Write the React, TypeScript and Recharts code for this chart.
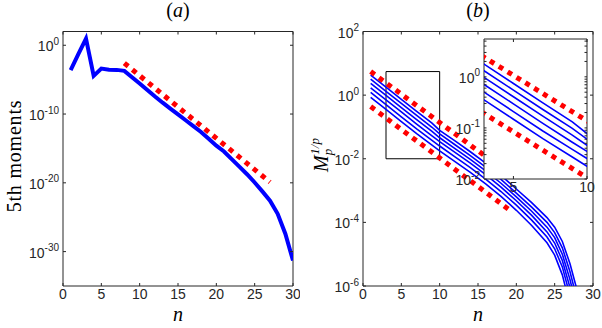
import { Line, LineChart, ReferenceArea, XAxis, YAxis } from "recharts";

const BLUE = "#0000ff";
const RED = "#ff0000";
const AXIS = "#262626";
const SANS = "'Liberation Sans', Arial, Helvetica, sans-serif";
const SERIF = "'Liberation Serif', 'Times New Roman', serif";

// panel (a): 5th moments, stored as log10 of the value
const nA = [1, 2, 3, 4, 5, 6, 7, 8, 9, 10, 11, 12, 13, 14, 15, 16, 17, 18, 19, 20, 21, 22, 23, 24, 25, 26, 27, 28, 29, 30];
const momentsExpA = [
  -3.62, -1.3, 0.97, -4.45, -3.38, -3.55, -3.58, -3.72, -4.65, -5.55, -6.5, -7.45, -8.35, -9.2, -10.05,
  -10.9, -11.75, -12.6, -13.6, -14.6, -15.45, -16.55, -17.65, -18.75, -19.95, -21.25, -22.6, -24.5, -27.4, -31.3,
];
const nFitA = [8, 27];
const fitExpA = [-2.6, -19.9];

// panel (b): M_p^{1/p}, one array per p (log10 values)
const nB = [1, 3, 5, 7, 9, 10, 12, 14, 16, 18, 20, 22, 24, 25, 26, 27, 28];
const mExpP1 = [0.63, 0.25, -0.13, -0.51, -0.88, -1.11, -1.44, -1.78, -2.14, -2.52, -2.95, -3.38, -3.85, -4.15, -4.6, -5.3, -6.2];
const mExpP2 = [0.5, 0.12, -0.26, -0.64, -1.01, -1.22, -1.56, -1.9, -2.26, -2.65, -3.08, -3.52, -4.0, -4.32, -4.8, -5.55, -6.5];
const mExpP3 = [0.37, -0.01, -0.39, -0.77, -1.14, -1.34, -1.68, -2.02, -2.38, -2.77, -3.2, -3.65, -4.15, -4.48, -5.0, -5.8, -6.8];
const mExpP4 = [0.23, -0.15, -0.53, -0.91, -1.28, -1.46, -1.8, -2.14, -2.5, -2.89, -3.32, -3.78, -4.3, -4.65, -5.2, -6.05, -7.1];
const mExpP5 = [0.09, -0.3, -0.68, -1.06, -1.42, -1.6, -1.94, -2.28, -2.64, -3.03, -3.46, -3.93, -4.46, -4.83, -5.4, -6.3, -7.4];
const mExpP6 = [-0.07, -0.45, -0.83, -1.21, -1.57, -1.75, -2.09, -2.43, -2.79, -3.18, -3.62, -4.1, -4.64, -5.03, -5.65, -6.6, -7.7];
const nBoundB = [1, 19.5];
const upperExpB = [0.74, -2.55];
const lowerExpB = [-0.36, -3.68];

const xTicks = [0, 5, 10, 15, 20, 25, 30];
const yTicksA = [1e-30, 1e-20, 1e-10, 1];
const yTicksB = [1e-6, 1e-4, 1e-2, 1, 100];
const insetXTicks = [5, 10];
const insetYTicks = [
  0.01, 0.02, 0.03, 0.04, 0.05, 0.06, 0.07, 0.08, 0.09, 0.1, 0.2, 0.3, 0.4, 0.5, 0.6, 0.7, 0.8, 0.9, 1, 2, 3, 4, 5,
];

const toPoints = (ns: number[], exps: number[]) => ns.map((n, i) => ({ n, v: Math.pow(10, exps[i]) }));

const seriesA = toPoints(nA, momentsExpA);
const fitA = toPoints(nFitA, fitExpA);
const seriesB = [mExpP1, mExpP2, mExpP3, mExpP4, mExpP5, mExpP6].map((e) => toPoints(nB, e));
const upperB = toPoints(nBoundB, upperExpB);
const lowerB = toPoints(nBoundB, lowerExpB);

const makeXTick = (plotH: number, len = 3) => (p: any) => {
  const { x, y, payload } = p;
  return (
    <g>
      <line x1={x} x2={x} y1={y} y2={y - len} stroke={AXIS} />
      <line x1={x} x2={x} y1={y - plotH} y2={y - plotH + len} stroke={AXIS} />
      <text x={x} y={y + 13} textAnchor="middle" fontFamily={SANS} fontSize={14} fill={AXIS}>
        {payload.value}
      </text>
    </g>
  );
};

const makeYTick = (plotW: number, len = 3) => (p: any) => {
  const { x, y, payload } = p;
  const lg = Math.log10(payload.value);
  const exp = Math.round(lg);
  const major = Math.abs(lg - exp) < 1e-6;
  return (
    <g>
      <line x1={x} x2={x + len} y1={y} y2={y} stroke={AXIS} />
      <line x1={x + plotW} x2={x + plotW - len} y1={y} y2={y} stroke={AXIS} />
      {major && (
        <text x={x - 4} y={y + 6} textAnchor="end" fontFamily={SANS} fontSize={14} fill={AXIS}>
          10
          <tspan dy={-6.5} fontSize={10}>
            {exp}
          </tspan>
        </text>
      )}
    </g>
  );
};

const frame = { fill: "none", stroke: AXIS, strokeWidth: 1 };

function PanelA() {
  return (
    <LineChart width={300} height={328} margin={{ top: 31.5, right: 7, bottom: 0, left: 0 }}>
      <XAxis
        dataKey="n"
        type="number"
        domain={[0, 30]}
        ticks={xTicks}
        interval={0}
        height={42}
        tickSize={0}
        tickMargin={0}
        axisLine={false}
        tickLine={false}
        tick={makeXTick(254.5)}
        allowDataOverflow
      />
      <YAxis
        type="number"
        scale="log"
        domain={[1e-35, 100]}
        ticks={yTicksA}
        interval={0}
        width={63}
        tickSize={0}
        tickMargin={0}
        axisLine={false}
        tickLine={false}
        tick={makeYTick(230)}
        allowDataOverflow
      />
      <Line data={seriesA} dataKey="v" type="linear" stroke={BLUE} strokeWidth={4} dot={false} isAnimationActive={false} />
      <Line
        data={fitA}
        dataKey="v"
        type="linear"
        stroke={RED}
        strokeWidth={5}
        strokeDasharray="5 5.4"
        dot={false}
        isAnimationActive={false}
      />
      <ReferenceArea x1={0} x2={30} y1={1e-35} y2={100} {...frame} />
    </LineChart>
  );
}

function PanelB() {
  return (
    <LineChart width={302} height={328} margin={{ top: 31.5, right: 9, bottom: 0, left: 0 }}>
      <XAxis
        dataKey="n"
        type="number"
        domain={[0, 30]}
        ticks={xTicks}
        interval={0}
        height={42}
        tickSize={0}
        tickMargin={0}
        axisLine={false}
        tickLine={false}
        tick={makeXTick(254.5)}
        allowDataOverflow
      />
      <YAxis
        type="number"
        scale="log"
        domain={[1e-6, 100]}
        ticks={yTicksB}
        interval={0}
        width={63}
        tickSize={0}
        tickMargin={0}
        axisLine={false}
        tickLine={false}
        tick={makeYTick(230)}
        allowDataOverflow
      />
      {seriesB.map((d, i) => (
        <Line key={i} data={d} dataKey="v" type="linear" stroke={BLUE} strokeWidth={1.6} dot={false} isAnimationActive={false} />
      ))}
      {[upperB, lowerB].map((d, i) => (
        <Line
          key={"r" + i}
          data={d}
          dataKey="v"
          type="linear"
          stroke={RED}
          strokeWidth={5}
          strokeDasharray="5 5.4"
          dot={false}
          isAnimationActive={false}
        />
      ))}
      <ReferenceArea x1={3} x2={10} y1={0.01} y2={5.5} fill="none" stroke="#000" strokeWidth={1} />
      <ReferenceArea x1={0} x2={30} y1={1e-6} y2={100} {...frame} />
    </LineChart>
  );
}

function Inset() {
  return (
    <LineChart width={160} height={200} margin={{ top: 39, right: 13, bottom: 0, left: 0 }}>
      <XAxis
        dataKey="n"
        type="number"
        domain={[3, 10]}
        ticks={insetXTicks}
        interval={0}
        height={21}
        tickSize={0}
        tickMargin={0}
        axisLine={false}
        tickLine={false}
        tick={makeXTick(140)}
        allowDataOverflow
      />
      <YAxis
        type="number"
        scale="log"
        domain={[0.01, 5.5]}
        ticks={insetYTicks}
        interval={0}
        width={44}
        tickSize={0}
        tickMargin={0}
        axisLine={false}
        tickLine={false}
        tick={makeYTick(103, 2.5)}
        allowDataOverflow
      />
      <ReferenceArea x1={3} x2={10} y1={0.01} y2={5.5} fill="#ffffff" fillOpacity={1} stroke="none" />
      {seriesB.map((d, i) => (
        <Line key={i} data={d} dataKey="v" type="linear" stroke={BLUE} strokeWidth={1.6} dot={false} isAnimationActive={false} />
      ))}
      {[upperB, lowerB].map((d, i) => (
        <Line
          key={"r" + i}
          data={d}
          dataKey="v"
          type="linear"
          stroke={RED}
          strokeWidth={5}
          strokeDasharray="5 5.4"
          dot={false}
          isAnimationActive={false}
        />
      ))}
      <ReferenceArea x1={3} x2={10} y1={0.01} y2={5.5} {...frame} />
    </LineChart>
  );
}

export default function App() {
  return (
    <div style={{ position: "absolute", left: 0, top: 0, width: 602, height: 328, background: "#fff" }}>
      <div style={{ position: "absolute", left: 0, top: 0 }}>
        <PanelA />
      </div>
      <div style={{ position: "absolute", left: 300, top: 0 }}>
        <PanelB />
      </div>
      <div style={{ position: "absolute", left: 440, top: 0 }}>
        <Inset />
      </div>
      <svg width={602} height={328} style={{ position: "absolute", left: 0, top: 0, pointerEvents: "none" }}>
        <g fontFamily={SERIF} fill="#000">
          <text x={178} y={17} textAnchor="middle" fontSize={20}>
            (<tspan fontStyle="italic">a</tspan>)
          </text>
          <text x={478} y={17} textAnchor="middle" fontSize={20}>
            (<tspan fontStyle="italic">b</tspan>)
          </text>
          <text x={178} y={320.5} textAnchor="middle" fontSize={20} fontStyle="italic">
            n
          </text>
          <text x={478} y={320.5} textAnchor="middle" fontSize={20} fontStyle="italic">
            n
          </text>
          <text transform="translate(20.5,156) rotate(-90)" textAnchor="middle" fontSize={20} letterSpacing={0.8}>
            5th moments
          </text>
          <text transform="translate(328,155) rotate(-90)" textAnchor="middle" fontSize={20} fontStyle="italic">
            M
            <tspan dy={4} fontSize={13}>
              p
            </tspan>
            <tspan dy={-13} dx={-6} fontSize={13}>
              1/p
            </tspan>
          </text>
        </g>
      </svg>
    </div>
  );
}
